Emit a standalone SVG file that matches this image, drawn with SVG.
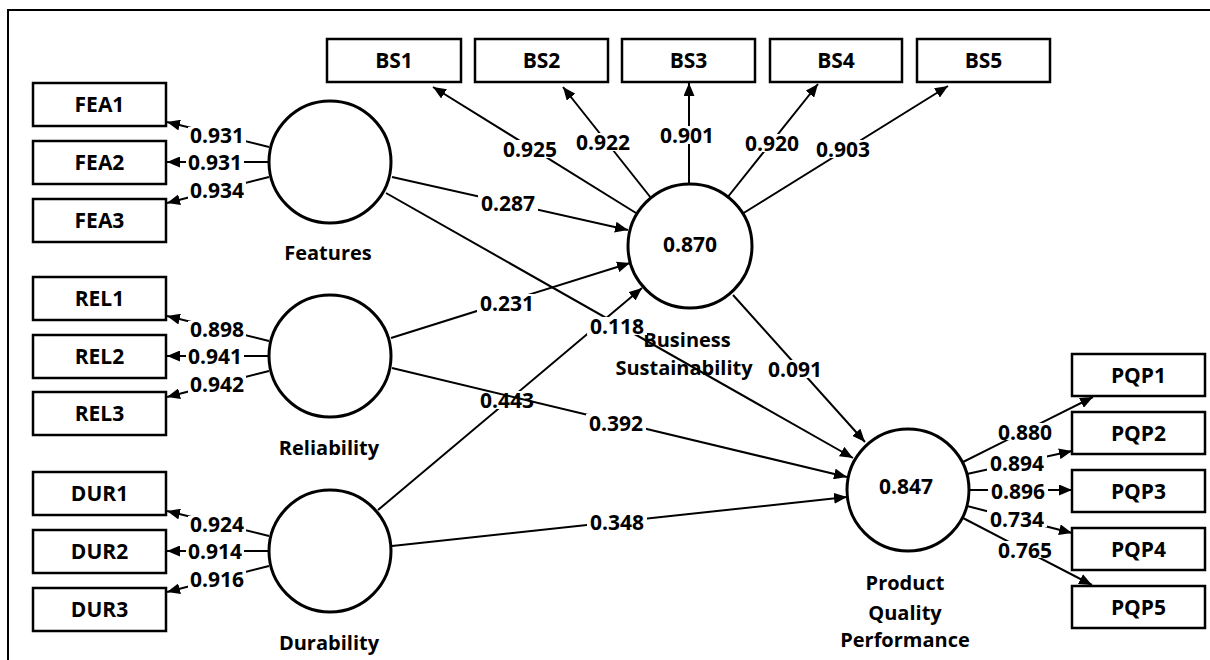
<svg xmlns="http://www.w3.org/2000/svg" width="1210" height="660" viewBox="0 0 1210 660">
<defs>
<marker id="arr" viewBox="0 0 13 11" refX="13" refY="5.5" markerWidth="13" markerHeight="11" markerUnits="userSpaceOnUse" orient="auto">
<path d="M0,0 L13,5.5 L0,11 z" fill="#000"/>
</marker>
<style>
.box{fill:#fff;stroke:#000;stroke-width:2.5}
.lv{fill:#fff;stroke:#000;stroke-width:3}
.t{font-family:"Open Sans","DejaVu Sans",sans-serif;font-weight:bold;font-size:20px;fill:#000;text-anchor:middle}
.n{font-size:21px}
.ln{stroke:#000;stroke-width:2;fill:none;marker-end:url(#arr)}
.bg{fill:#fff}
</style>
</defs>
<rect width="1210" height="660" fill="#fff"/>
<path d="M8,660 L8,10 L1210,10" fill="none" stroke="#000" stroke-width="2"/>

<g id="FEA1"><rect class="box" x="33" y="83" width="133" height="43"/><text class="t n" x="99.5" y="112">FEA1</text></g>
<g id="FEA2"><rect class="box" x="33" y="141" width="133" height="43"/><text class="t n" x="99.5" y="170">FEA2</text></g>
<g id="FEA3"><rect class="box" x="33" y="199" width="133" height="43"/><text class="t n" x="99.5" y="228">FEA3</text></g>
<g id="REL1"><rect class="box" x="33" y="277" width="133" height="43"/><text class="t n" x="99.5" y="306">REL1</text></g>
<g id="REL2"><rect class="box" x="33" y="335" width="133" height="43"/><text class="t n" x="99.5" y="364">REL2</text></g>
<g id="REL3"><rect class="box" x="33" y="392" width="133" height="43"/><text class="t n" x="99.5" y="421">REL3</text></g>
<g id="DUR1"><rect class="box" x="33" y="472" width="133" height="43"/><text class="t n" x="99.5" y="501">DUR1</text></g>
<g id="DUR2"><rect class="box" x="33" y="530" width="133" height="43"/><text class="t n" x="99.5" y="559">DUR2</text></g>
<g id="DUR3"><rect class="box" x="33" y="588" width="133" height="43"/><text class="t n" x="99.5" y="617">DUR3</text></g>

<g id="BS1"><rect class="box" x="327" y="39" width="134" height="43"/><text class="t n" x="394" y="68">BS1</text></g>
<g id="BS2"><rect class="box" x="475" y="39" width="133" height="43"/><text class="t n" x="541.5" y="68">BS2</text></g>
<g id="BS3"><rect class="box" x="622" y="39" width="133" height="43"/><text class="t n" x="688.5" y="68">BS3</text></g>
<g id="BS4"><rect class="box" x="770" y="39" width="132" height="43"/><text class="t n" x="836" y="68">BS4</text></g>
<g id="BS5"><rect class="box" x="917" y="39" width="133" height="43"/><text class="t n" x="983.5" y="68">BS5</text></g>

<g id="PQP1"><rect class="box" x="1072" y="354" width="133" height="42"/><text class="t n" x="1138.5" y="382.5">PQP1</text></g>
<g id="PQP2"><rect class="box" x="1072" y="412" width="133" height="42"/><text class="t n" x="1138.5" y="440.5">PQP2</text></g>
<g id="PQP3"><rect class="box" x="1072" y="470" width="133" height="42"/><text class="t n" x="1138.5" y="498.5">PQP3</text></g>
<g id="PQP4"><rect class="box" x="1072" y="528" width="133" height="42"/><text class="t n" x="1138.5" y="556.5">PQP4</text></g>
<g id="PQP5"><rect class="box" x="1072" y="586" width="133" height="42"/><text class="t n" x="1138.5" y="614.5">PQP5</text></g>

<g id="Features"><circle class="lv" cx="330" cy="162" r="61"/><text class="t" x="328" y="260">Features</text></g>
<g id="Reliability"><circle class="lv" cx="330" cy="356" r="61"/><text class="t" x="329" y="455">Reliability</text></g>
<g id="Durability"><circle class="lv" cx="330" cy="551" r="61"/><text class="t" x="329" y="650">Durability</text></g>
<g id="BusinessSustainability"><circle class="lv" cx="690" cy="246" r="62"/><text class="t n" x="690" y="252">0.870</text><text class="t" x="687" y="347">Business</text><text class="t" x="684" y="375">Sustainability</text></g>
<g id="ProductQualityPerformance"><circle class="lv" cx="908" cy="490" r="61"/><text class="t n" x="906" y="494">0.847</text><text class="t" x="905" y="590">Product</text><text class="t" x="905" y="620">Quality</text><text class="t" x="905" y="647">Performance</text></g>

<g id="connectors" class="t n">
<line class="ln" x1="269" y1="147" x2="167" y2="122"/><rect class="bg" x="188" y="127" width="58" height="17"/><text x="217" y="142.5">0.931</text>
<line class="ln" x1="269" y1="162" x2="167" y2="162"/><rect class="bg" x="186" y="154" width="58" height="17"/><text x="215" y="169.5">0.931</text>
<line class="ln" x1="269" y1="177" x2="167" y2="203"/><rect class="bg" x="188" y="182" width="58" height="17"/><text x="217" y="197.5">0.934</text>

<line class="ln" x1="269" y1="341" x2="167" y2="316"/><rect class="bg" x="188" y="321" width="58" height="17"/><text x="217" y="336.5">0.898</text>
<line class="ln" x1="269" y1="356" x2="167" y2="356"/><rect class="bg" x="186" y="348" width="58" height="17"/><text x="215" y="363.5">0.941</text>
<line class="ln" x1="269" y1="371" x2="167" y2="397"/><rect class="bg" x="188" y="376" width="58" height="17"/><text x="217" y="391.5">0.942</text>

<line class="ln" x1="269" y1="536" x2="167" y2="511"/><rect class="bg" x="188" y="516" width="58" height="17"/><text x="217" y="531.5">0.924</text>
<line class="ln" x1="269" y1="551" x2="167" y2="551"/><rect class="bg" x="186" y="543" width="58" height="17"/><text x="215" y="558.5">0.914</text>
<line class="ln" x1="269" y1="566" x2="167" y2="592"/><rect class="bg" x="188" y="571" width="58" height="17"/><text x="217" y="586.5">0.916</text>

<line class="ln" x1="636" y1="213" x2="433" y2="87"/><rect class="bg" x="500" y="140" width="60" height="18"/><text x="530" y="156.5">0.925</text>
<line class="ln" x1="651" y1="198" x2="563" y2="87"/><rect class="bg" x="573" y="133" width="60" height="18"/><text x="603" y="149.5">0.922</text>
<line class="ln" x1="689" y1="184" x2="689" y2="83"/><rect class="bg" x="657" y="126" width="60" height="18"/><text x="687" y="142.5">0.901</text>
<line class="ln" x1="727" y1="198" x2="818" y2="84"/><rect class="bg" x="742" y="134" width="60" height="18"/><text x="772" y="150.5">0.920</text>
<line class="ln" x1="742" y1="214" x2="948" y2="86"/><rect class="bg" x="813" y="140" width="60" height="18"/><text x="843" y="156.5">0.903</text>

<line class="ln" x1="392" y1="177" x2="628" y2="230"/><rect class="bg" x="478" y="194" width="60" height="18"/><text x="508" y="210.5">0.287</text>
<line class="ln" x1="391" y1="338" x2="630" y2="263"/><rect class="bg" x="477" y="294" width="60" height="18"/><text x="507" y="310.5">0.231</text>
<line class="ln" x1="378" y1="510" x2="642" y2="288"/><rect class="bg" x="477" y="391" width="60" height="18"/><text x="507" y="407.5">0.443</text>
<line class="ln" x1="386" y1="193" x2="853" y2="458"/><rect class="bg" x="587" y="317" width="60" height="18"/><text x="617" y="333.5">0.118</text>
<line class="ln" x1="392" y1="368" x2="847" y2="477"/><rect class="bg" x="586" y="414" width="60" height="18"/><text x="616" y="430.5">0.392</text>
<line class="ln" x1="392" y1="546" x2="847" y2="497"/><rect class="bg" x="587" y="513" width="60" height="18"/><text x="617" y="529.5">0.348</text>
<line class="ln" x1="733" y1="295" x2="865" y2="442"/><rect class="bg" x="765" y="360" width="60" height="18"/><text x="795" y="376.5">0.091</text>

<line class="ln" x1="963" y1="462" x2="1093" y2="397"/><rect class="bg" x="995" y="423" width="60" height="17"/><text x="1025" y="439.5">0.880</text>
<line class="ln" x1="967" y1="474" x2="1072" y2="451"/><rect class="bg" x="987" y="455" width="60" height="17"/><text x="1017" y="470.5">0.894</text>
<line class="ln" x1="969" y1="490" x2="1072" y2="490"/><rect class="bg" x="988" y="482" width="60" height="17"/><text x="1018" y="498.5">0.896</text>
<line class="ln" x1="967" y1="506" x2="1072" y2="533"/><rect class="bg" x="987" y="510" width="60" height="17"/><text x="1017" y="526.5">0.734</text>
<line class="ln" x1="963" y1="518" x2="1092" y2="585"/><rect class="bg" x="995" y="541" width="60" height="17"/><text x="1025" y="557.5">0.765</text>
</g>
</svg>
